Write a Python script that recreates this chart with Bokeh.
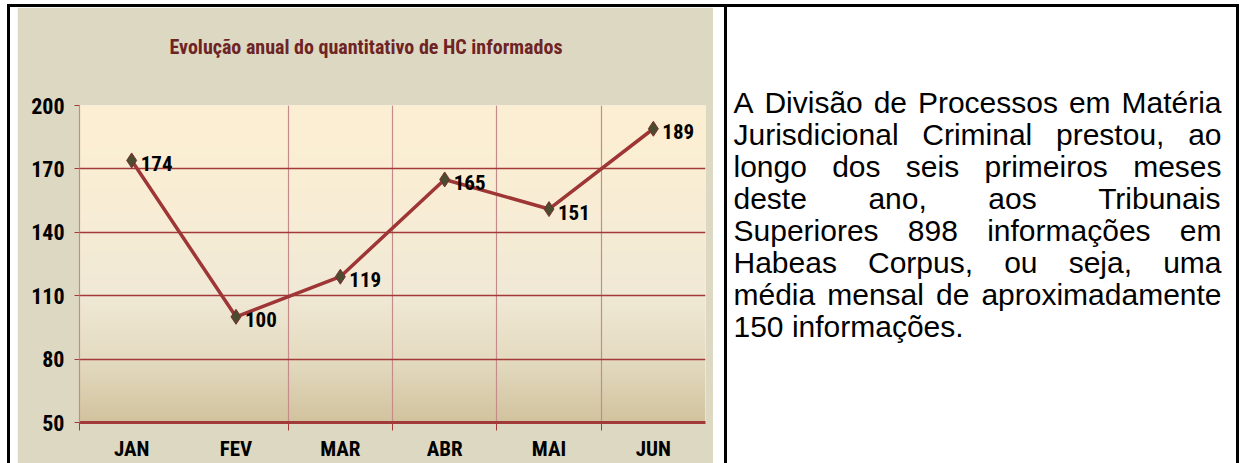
import numpy as np
from bokeh.plotting import figure
from bokeh.models import Range1d, FixedTicker, Grid, ColumnDataSource, Div, LabelSet, Title
from bokeh.layouts import row, column
from bokeh.core.properties import value
from bokeh.embed import file_html
from bokeh.resources import INLINE

# ---------------- data ----------------
months = ["JAN", "FEV", "MAR", "ABR", "MAI", "JUN"]
counts = [174, 100, 119, 165, 151, 189]
y_ticks = [50, 80, 110, 140, 170, 200]
title_text = "Evolução anual do quantitativo de HC informados"
paragraph_lines = [
    "A Divisão de Processos em Matéria",
    "Jurisdicional Criminal prestou, ao",
    "longo dos seis primeiros meses",
    "deste ano, aos Tribunais",
    "Superiores 898 informações em",
    "Habeas Corpus, ou seja, uma",
    "média mensal de aproximadamente",
    "150 informações.",
]

# ---------------- styles ----------------
NARROW = "Liberation Sans Narrow, Noto Sans Condensed, Roboto Condensed, DejaVu Sans Condensed, Liberation Sans"
SANS = "Liberation Sans"
BEIGE = "#ddd8c2"
DARK_RED = "#a33a3a"
LIGHT_RED = "#c58b8b"
H = 456
TOP_B, BOT_B = 98, 41

xs = list(range(1, len(months) + 1))
src = ColumnDataSource(dict(x=xs, y=counts, label=[str(c) for c in counts]))

p = figure(width=696, height=H,
           x_range=Range1d(xs[0] - 0.5, xs[-1] + 0.5),
           y_range=Range1d(y_ticks[0], y_ticks[-1]),
           output_backend="svg", toolbar_location=None,
           min_border_left=62, min_border_right=8, min_border_top=TOP_B, min_border_bottom=BOT_B,
           border_fill_color=BEIGE, background_fill_color="#fcefd5",
           outline_line_color=None, margin=(0, 11, 0, 7), title=None)

# title: an empty spacer title next to the frame, the real title above it
p.add_layout(Title(text=" ", text_font_size="1px", standoff=44), "above")
p.add_layout(Title(text=title_text, align="left", offset=90, standoff=0,
                   text_font=NARROW, text_font_style="bold", text_font_size="20px",
                   text_color="#6e2424"), "above")

# gradient background of the plot area
ny = 300
vals = np.linspace(y_ticks[0], y_ticks[-1], ny)
stop_v = [50, 80, 110, 150, 200]
stop_r = [210, 228, 240, 248, 253]
stop_g = [195, 219, 233, 237, 239]
stop_b = [158, 193, 213, 213, 211]
img = np.empty((ny, 1), dtype=np.uint32)
view = img.view(dtype=np.uint8).reshape((ny, 1, 4))
view[:, 0, 0] = np.interp(vals, stop_v, stop_r).astype(np.uint8)
view[:, 0, 1] = np.interp(vals, stop_v, stop_g).astype(np.uint8)
view[:, 0, 2] = np.interp(vals, stop_v, stop_b).astype(np.uint8)
view[:, 0, 3] = 255
p.image_rgba(image=[img], x=xs[0] - 0.5, y=y_ticks[0], dw=len(months),
             dh=y_ticks[-1] - y_ticks[0], level="image")

# grids
p.ygrid.ticker = FixedTicker(ticks=y_ticks)
p.ygrid.grid_line_color = DARK_RED
p.ygrid.grid_line_width = 1.4
p.xgrid.ticker = FixedTicker(ticks=[x + 0.5 for x in xs[1:-1]])
p.xgrid.grid_line_color = LIGHT_RED
p.xgrid.grid_line_width = 1.2
p.add_layout(Grid(dimension=0, ticker=FixedTicker(ticks=[xs[-1] + 0.5]),
                  grid_line_color=DARK_RED, grid_line_width=2.5))

# series
p.line("x", "y", source=src, line_color="#9e3636", line_width=3.5)
p.scatter("x", "y", source=src, marker="diamond", size=15,
          fill_color="#4b4b2f", line_color="#7a3030", line_width=1)
p.add_layout(LabelSet(x="x", y="y", text="label", source=src, x_offset=9, y_offset=-3,
                      text_baseline="middle", text_font=value(NARROW),
                      text_font_style="bold", text_font_size="21px", text_color="black"))

# x axis
p.xaxis.ticker = FixedTicker(ticks=xs, minor_ticks=[xs[0] - 0.5] + [x + 0.5 for x in xs[1:-1]])
p.xaxis.major_label_overrides = {x: m for x, m in zip(xs, months)}
p.xaxis.major_tick_out = 0
p.xaxis.major_tick_in = 0
p.xaxis.major_tick_line_color = None
p.xaxis.minor_tick_out = 8
p.xaxis.minor_tick_in = 0
p.xaxis.minor_tick_line_color = DARK_RED
p.xaxis.axis_line_color = DARK_RED
p.xaxis.axis_line_width = 3
p.xaxis.major_label_standoff = 6
p.xaxis.major_label_text_font = NARROW
p.xaxis.major_label_text_font_style = "bold"
p.xaxis.major_label_text_font_size = "21px"
p.xaxis.major_label_text_color = "black"

# y axis
p.yaxis.ticker = FixedTicker(ticks=y_ticks)
p.yaxis.major_tick_out = 5
p.yaxis.major_tick_in = 0
p.yaxis.major_tick_line_color = DARK_RED
p.yaxis.minor_tick_line_color = None
p.yaxis.axis_line_color = LIGHT_RED
p.yaxis.axis_line_width = 1.2
p.yaxis.major_label_standoff = 10
p.yaxis.major_label_text_font = NARROW
p.yaxis.major_label_text_font_style = "bold"
p.yaxis.major_label_text_font_size = "22px"
p.yaxis.major_label_text_color = "black"

# ---------------- text panel ----------------
QW = 509
# y data = pixels measured down from the top of this panel
q = figure(width=QW, height=H, x_range=Range1d(0, QW), y_range=Range1d(H, 0),
           output_backend="svg", toolbar_location=None, x_axis_type=None, y_axis_type=None,
           min_border_left=0, min_border_right=0, min_border_top=0, min_border_bottom=0,
           outline_line_color=None, background_fill_color="white", border_fill_color="white")
q.grid.visible = False
for plot in (p, q):
    try:
        plot.frame_align = False
    except Exception:
        pass

ARIAL = {' ': 278, ',': 278, '.': 278, '0': 556, '1': 556, '5': 556, '8': 556, '9': 556,
         'A': 667, 'C': 722, 'D': 722, 'H': 722, 'J': 500, 'M': 833, 'P': 667, 'S': 667,
         'T': 611, 'a': 556, 'b': 556, 'c': 500, 'd': 556, 'e': 556, 'f': 278, 'g': 556,
         'i': 222, 'j': 222, 'l': 222, 'm': 833, 'n': 556, 'o': 556, 'p': 556, 'r': 333,
         's': 500, 't': 278, 'u': 556, 'v': 500, 'x': 500, 'ç': 500, 'ã': 556, 'õ': 556,
         'é': 556}
FS = 30
LEFT, RIGHT = 6, 494
BASE0, LINE_H = 105, 32


def tw(s):
    return sum(ARIAL.get(ch, 556) for ch in s) * FS / 1000.0


wx, wy, wt = [], [], []
for i, line in enumerate(paragraph_lines):
    words = line.split()
    widths = [tw(w) for w in words]
    if i == len(paragraph_lines) - 1 or len(words) == 1:
        gap = tw(" ")
    else:
        gap = (RIGHT - LEFT - sum(widths)) / (len(words) - 1)
    x = LEFT
    for w, wd in zip(words, widths):
        wx.append(x)
        wy.append(BASE0 + i * LINE_H)
        wt.append(w)
        x += wd + gap

q.add_layout(LabelSet(x="x", y="y", text="t", source=ColumnDataSource(dict(x=wx, y=wy, t=wt)),
                      text_font=value(SANS), text_font_size=f"{FS}px",
                      text_baseline="alphabetic", text_align="left", text_color="black"))

# ---------------- table borders ----------------
def bar(w, h):
    return Div(text="", width=w, height=h, margin=0, styles={"background-color": "black"})


total_w = 3 + 7 + 696 + 11 + 3 + QW + 3
layout = column(
    bar(total_w, 3),
    row(bar(3, H), p, bar(3, H), column(q, spacing=0), bar(3, H), spacing=0),
    spacing=0, margin=(4, 0, 0, 7),
)

open("out.html", "w").write(file_html(layout, INLINE))
